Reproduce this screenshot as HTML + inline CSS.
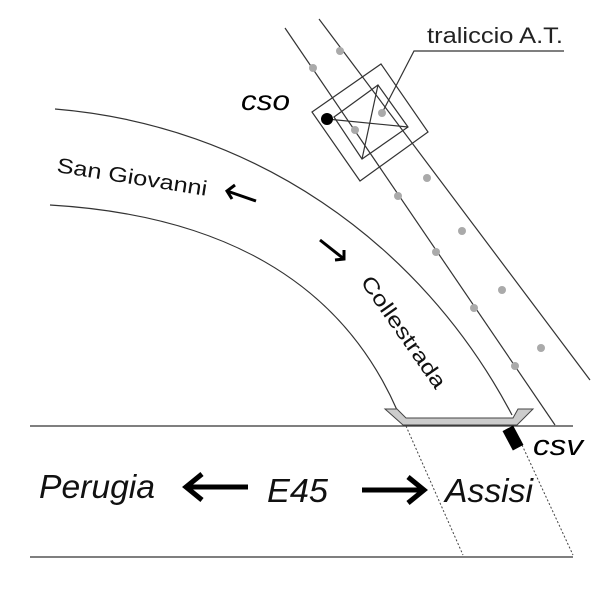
<!DOCTYPE html>
<html><head><meta charset="utf-8"><style>html,body{margin:0;padding:0;background:#fff}</style></head>
<body>
<svg width="600" height="600" viewBox="0 0 600 600" xmlns="http://www.w3.org/2000/svg" font-family="Liberation Sans, sans-serif">
<rect width="600" height="600" fill="#fff"/>
<g fill="none" stroke="#333" stroke-width="1.2">
<path d="M55,109 C250,125 420,240 512,415"/>
<path d="M50,205 C220,215 340,280 397,410"/>
<line x1="285" y1="28" x2="555" y2="425"/>
<line x1="319" y1="19" x2="590" y2="380"/>
<polygon points="312,112 381,64 428,132 360,181"/>
<polygon points="334,117 378,85 408,127 362,159"/>
<line x1="327" y1="119" x2="408" y2="127"/>
<line x1="378" y1="85" x2="362" y2="159"/>
<polyline points="382,113 414,51 564,51"/>
<line x1="30" y1="426" x2="573" y2="426"/>
<line x1="30" y1="557" x2="573" y2="557"/>
</g>
<g fill="#aaa">
<circle cx="313" cy="68" r="4"/><circle cx="355" cy="130" r="4"/><circle cx="398" cy="196" r="4"/><circle cx="436" cy="252" r="4"/><circle cx="474" cy="308" r="4"/><circle cx="515" cy="366" r="4"/>
<circle cx="340" cy="51" r="4"/><circle cx="382" cy="113" r="4"/><circle cx="427" cy="178" r="4"/><circle cx="462" cy="231" r="4"/><circle cx="502" cy="290" r="4"/><circle cx="541" cy="348" r="4"/>
</g>
<circle cx="327" cy="119" r="6" fill="#000"/>
<polygon points="385,409 397,409 406,418 513,418 518,409 533,409 517,425 403,425" fill="#ccc" stroke="#444" stroke-width="1"/>
<g stroke="#444" stroke-width="1" stroke-dasharray="2,2">
<line x1="406" y1="426" x2="463" y2="555"/>
<line x1="522" y1="445" x2="573" y2="555"/>
</g>
<rect x="-6" y="-11" width="12" height="22" fill="#000" transform="translate(513,438) rotate(-28)"/>
<text x="427" y="43" font-size="22" fill="#222" textLength="136" lengthAdjust="spacingAndGlyphs">traliccio A.T.</text>
<text x="241" y="110" font-size="28" font-style="italic" fill="#000" textLength="49" lengthAdjust="spacingAndGlyphs">cso</text>
<text x="533" y="455" font-size="29" font-style="italic" fill="#000" textLength="50" lengthAdjust="spacingAndGlyphs">csv</text>
<text x="39" y="498" font-size="33" font-style="italic" fill="#111" textLength="116" lengthAdjust="spacingAndGlyphs">Perugia</text>
<text x="267" y="502" font-size="33" font-style="italic" fill="#111" textLength="61" lengthAdjust="spacingAndGlyphs">E45</text>
<text x="445" y="502" font-size="33" font-style="italic" fill="#111" textLength="88" lengthAdjust="spacingAndGlyphs">Assisi</text>
<text transform="translate(56,172) rotate(9)" font-size="21" fill="#111" textLength="152" lengthAdjust="spacingAndGlyphs">San Giovanni</text>
<text transform="translate(360,282) rotate(55)" font-size="21" fill="#111" textLength="132" lengthAdjust="spacingAndGlyphs">Collestrada</text>
<g stroke="#000" stroke-width="5" fill="none">
<line x1="186" y1="487" x2="248" y2="487"/>
<polyline points="202,474 186,487 202,500"/>
<line x1="362" y1="490" x2="424" y2="490"/>
<polyline points="408,477 424,490 408,503"/>
</g>
<g stroke="#000" stroke-width="3" fill="none">
<line x1="256" y1="201" x2="227" y2="191"/>
<polyline points="235,185 227,191 232,199"/>
<line x1="320" y1="240" x2="344" y2="259"/>
<polyline points="344,250 344,259 335,260"/>
</g>
</svg>
</body></html>
